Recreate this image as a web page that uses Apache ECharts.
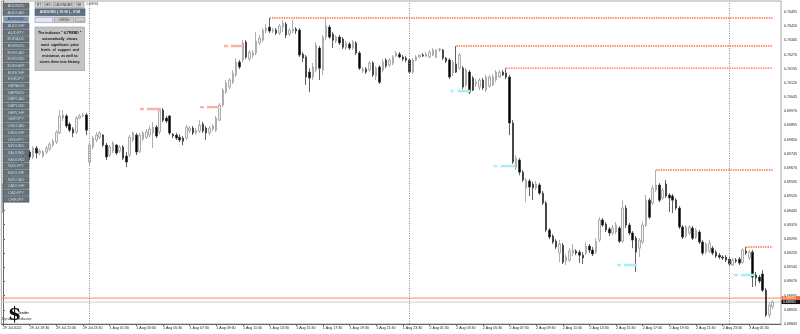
<!DOCTYPE html>
<html><head><meta charset="utf-8">
<script src="https://cdn.jsdelivr.net/npm/echarts@6/dist/echarts.min.js"></script>
<style>html,body{margin:0;padding:0;background:#fff}#c{width:800px;height:334px}</style>
</head><body><div id="c"></div>
<script>
// ---------- data ----------
const tickLabels = ["29 Jul 2022","29 Jul 19:30","29 Jul 21:30","29 Jul 23:30",
 "1 Aug 01:30","1 Aug 03:30","1 Aug 05:30","1 Aug 07:30","1 Aug 09:30","1 Aug 11:30",
 "1 Aug 13:30","1 Aug 15:30","1 Aug 17:30","1 Aug 19:30","1 Aug 21:30","1 Aug 23:30",
 "2 Aug 01:30","2 Aug 03:30","2 Aug 05:30","2 Aug 07:30","2 Aug 09:30","2 Aug 11:30",
 "2 Aug 13:30","2 Aug 15:30","2 Aug 17:30","2 Aug 19:30","2 Aug 21:30","2 Aug 23:30",
 "3 Aug 01:30"];
const symbols = ["AUDNZD","AUDCAD","AUDUSD","AUDCHF","AUDJPY","EURAUD","EURNZD","EURCAD",
 "EURUSD","EURGBP","EURCHF","EURJPY","GBPAUD","GBPNZD","GBPCAD","GBPUSD","GBPCHF","GBPJPY",
 "USDCAD","USDCHF","USDJPY","NZDUSD","XAUUSD","XAGUSD","NZDJPY","NZDCHF","NZDCAD","CADCHF",
 "CADJPY","CHFJPY"];
const panelLines = ["The indicator \" 4-TREND \"","automatically  shows","most  significant  price",
 "levels  of  support  and","resistance, as well as","stores them into history."];
// AUDUSD M15 candles: [open, close, low, high]
const candles = [
[0.69500,0.69564,0.69432,0.69590],[0.69564,0.69617,0.69543,0.69632],[0.69617,0.69659,0.69596,0.69680],
[0.69659,0.69685,0.69638,0.69712],[0.69685,0.69712,0.69665,0.69733],[0.69712,0.69701,0.69680,0.69728],
[0.69701,0.69733,0.69685,0.69749],[0.69733,0.69754,0.69717,0.69770],[0.69754,0.69728,0.69712,0.69765],
[0.69728,0.69775,0.69717,0.69786],[0.69775,0.69749,0.69722,0.69786],[0.69749,0.69759,0.69738,0.69770],
[0.69733,0.69754,0.69722,0.69765],[0.69754,0.69775,0.69744,0.69786],[0.69770,0.69796,0.69759,0.69807],
[0.69791,0.69812,0.69781,0.69823],[0.69807,0.69860,0.69796,0.69870],[0.69855,0.69945,0.69849,0.69976],
[0.69934,0.69950,0.69918,0.69976],[0.69945,0.69892,0.69881,0.69955],[0.69902,0.69870,0.69860,0.69913],
[0.69876,0.69855,0.69833,0.69886],[0.69860,0.69934,0.69849,0.69945],[0.69934,0.69945,0.69929,0.69955],
[0.69945,0.69950,0.69939,0.69961],[0.69950,0.69870,0.69844,0.69961],[0.69701,0.69791,0.69685,0.69802],
[0.69781,0.69828,0.69770,0.69839],[0.69818,0.69844,0.69807,0.69860],[0.69833,0.69855,0.69823,0.69865],
[0.69844,0.69791,0.69781,0.69849],[0.69791,0.69728,0.69712,0.69802],[0.69738,0.69781,0.69728,0.69791],
[0.69759,0.69802,0.69749,0.69812],[0.69791,0.69749,0.69738,0.69796],[0.69759,0.69781,0.69749,0.69791],
[0.69781,0.69722,0.69712,0.69791],[0.69733,0.69701,0.69675,0.69754],[0.69738,0.69833,0.69728,0.69844],
[0.69818,0.69855,0.69807,0.69865],[0.69844,0.69754,0.69738,0.69855],[0.69759,0.69844,0.69749,0.69855],
[0.69823,0.69855,0.69812,0.69865],[0.69833,0.69860,0.69823,0.69876],[0.69844,0.69876,0.69833,0.69892],
[0.69855,0.69886,0.69775,0.69913],[0.69886,0.69839,0.69828,0.69897],[0.69860,0.69976,0.69849,0.69987],
[0.69976,0.69923,0.69913,0.69987],[0.69934,0.69918,0.69908,0.69945],[0.69945,0.69855,0.69844,0.69950],
[0.69849,0.69839,0.69828,0.69855],[0.69844,0.69828,0.69818,0.69855],[0.69833,0.69818,0.69807,0.69849],
[0.69828,0.69812,0.69791,0.69839],[0.69828,0.69886,0.69818,0.69897],[0.69865,0.69881,0.69855,0.69892],
[0.69881,0.69855,0.69844,0.69892],[0.69855,0.69870,0.69844,0.69881],[0.69865,0.69897,0.69855,0.69923],
[0.69902,0.69865,0.69855,0.69913],[0.69881,0.69855,0.69818,0.69892],[0.69855,0.69881,0.69844,0.69892],
[0.69876,0.69892,0.69865,0.69902],[0.69870,0.69934,0.69860,0.69945],[0.69923,0.70003,0.69918,0.70013],
[0.70003,0.70082,0.69992,0.70093],[0.70071,0.70119,0.70061,0.70135],[0.70098,0.70135,0.70087,0.70146],
[0.70124,0.70172,0.70114,0.70188],[0.70162,0.70230,0.70151,0.70251],[0.70230,0.70204,0.70193,0.70241],
[0.70241,0.70331,0.70230,0.70346],[0.70336,0.70257,0.70246,0.70346],[0.70246,0.70283,0.70235,0.70294],
[0.70267,0.70278,0.70251,0.70294],[0.70278,0.70341,0.70267,0.70389],[0.70331,0.70357,0.70320,0.70373],
[0.70346,0.70399,0.70336,0.70410],[0.70394,0.70410,0.70383,0.70431],[0.70415,0.70394,0.70383,0.70463],
[0.70394,0.70399,0.70383,0.70410],[0.70399,0.70383,0.70373,0.70410],[0.70383,0.70421,0.70373,0.70431],
[0.70415,0.70436,0.70389,0.70452],[0.70431,0.70373,0.70357,0.70442],[0.70378,0.70399,0.70368,0.70410],
[0.70394,0.70405,0.70383,0.70452],[0.70405,0.70394,0.70378,0.70415],[0.70399,0.70267,0.70257,0.70410],
[0.70272,0.70251,0.70230,0.70283],[0.70257,0.70151,0.70109,0.70267],[0.70177,0.70146,0.70071,0.70198],
[0.70151,0.70204,0.70135,0.70225],[0.70188,0.70320,0.70177,0.70336],[0.70304,0.70198,0.70135,0.70315],
[0.70188,0.70362,0.70162,0.70373],[0.70362,0.70421,0.70346,0.70463],[0.70415,0.70362,0.70352,0.70426],
[0.70378,0.70346,0.70304,0.70389],[0.70341,0.70362,0.70331,0.70373],[0.70362,0.70331,0.70320,0.70373],
[0.70352,0.70309,0.70299,0.70362],[0.70304,0.70331,0.70294,0.70341],[0.70325,0.70304,0.70294,0.70336],
[0.70304,0.70336,0.70294,0.70346],[0.70331,0.70278,0.70267,0.70341],[0.70278,0.70198,0.70188,0.70288],
[0.70183,0.70193,0.70172,0.70204],[0.70193,0.70177,0.70167,0.70204],[0.70188,0.70225,0.70177,0.70235],
[0.70225,0.70162,0.70151,0.70235],[0.70156,0.70198,0.70135,0.70209],[0.70204,0.70124,0.70114,0.70214],
[0.70188,0.70230,0.70177,0.70246],[0.70241,0.70209,0.70198,0.70251],[0.70214,0.70241,0.70204,0.70251],
[0.70225,0.70257,0.70214,0.70267],[0.70262,0.70278,0.70257,0.70288],[0.70272,0.70257,0.70251,0.70283],
[0.70257,0.70246,0.70235,0.70267],[0.70251,0.70241,0.70230,0.70262],[0.70241,0.70177,0.70167,0.70251],
[0.70177,0.70241,0.70167,0.70251],[0.70241,0.70257,0.70235,0.70267],[0.70257,0.70267,0.70251,0.70272],
[0.70267,0.70262,0.70257,0.70278],[0.70262,0.70272,0.70257,0.70283],[0.70257,0.70283,0.70251,0.70294],
[0.70267,0.70294,0.70262,0.70304],[0.70257,0.70294,0.70251,0.70299],[0.70294,0.70299,0.70283,0.70304],
[0.70294,0.70251,0.70241,0.70299],[0.70251,0.70235,0.70225,0.70257],[0.70241,0.70151,0.70140,0.70251],
[0.70172,0.70230,0.70156,0.70241],[0.70220,0.70177,0.70172,0.70315],[0.70198,0.70267,0.70188,0.70278],
[0.70198,0.70098,0.70087,0.70209],[0.70109,0.70188,0.70098,0.70198],[0.70177,0.70071,0.70061,0.70188],
[0.70146,0.70082,0.70077,0.70156],[0.70114,0.70124,0.70098,0.70140],[0.70098,0.70135,0.70082,0.70146],
[0.70135,0.70093,0.70082,0.70146],[0.70082,0.70151,0.70071,0.70162],[0.70103,0.70151,0.70093,0.70162],
[0.70109,0.70151,0.70103,0.70167],[0.70135,0.70177,0.70124,0.70188],[0.70151,0.70177,0.70146,0.70188],
[0.70177,0.70162,0.70156,0.70188],[0.70172,0.70151,0.70140,0.70198],[0.70151,0.69908,0.69844,0.70162],
[0.69908,0.69701,0.69691,0.69923],[0.69675,0.69722,0.69659,0.69738],[0.69712,0.69648,0.69632,0.69722],
[0.69648,0.69606,0.69596,0.69659],[0.69564,0.69606,0.69490,0.69617],[0.69601,0.69569,0.69522,0.69611],
[0.69585,0.69564,0.69500,0.69596],[0.69564,0.69585,0.69553,0.69601],[0.69580,0.69537,0.69527,0.69590],
[0.69537,0.69485,0.69474,0.69548],[0.69485,0.69342,0.69331,0.69495],[0.69342,0.69305,0.69294,0.69352],
[0.69310,0.69278,0.69268,0.69320],[0.69283,0.69252,0.69241,0.69294],[0.69220,0.69268,0.69172,0.69289],
[0.69262,0.69172,0.69162,0.69273],[0.69178,0.69199,0.69157,0.69215],[0.69183,0.69231,0.69172,0.69246],
[0.69220,0.69236,0.69204,0.69268],[0.69231,0.69220,0.69209,0.69241],[0.69225,0.69209,0.69167,0.69236],
[0.69209,0.69194,0.69162,0.69225],[0.69220,0.69257,0.69209,0.69278],[0.69257,0.69236,0.69220,0.69268],
[0.69236,0.69215,0.69204,0.69252],[0.69225,0.69283,0.69215,0.69299],[0.69289,0.69395,0.69278,0.69410],
[0.69395,0.69368,0.69358,0.69405],[0.69373,0.69342,0.69331,0.69384],[0.69347,0.69326,0.69310,0.69358],
[0.69326,0.69352,0.69315,0.69368],[0.69331,0.69368,0.69320,0.69384],[0.69352,0.69283,0.69273,0.69363],
[0.69283,0.69458,0.69273,0.69500],[0.69458,0.69368,0.69352,0.69474],[0.69368,0.69326,0.69315,0.69379],
[0.69326,0.69289,0.69246,0.69336],[0.69299,0.69225,0.69120,0.69310],[0.69246,0.69289,0.69199,0.69299],
[0.69278,0.69368,0.69268,0.69384],[0.69368,0.69500,0.69358,0.69527],[0.69500,0.69410,0.69400,0.69511],
[0.69485,0.69564,0.69474,0.69580],[0.69553,0.69580,0.69543,0.69659],[0.69580,0.69500,0.69490,0.69590],
[0.69511,0.69553,0.69500,0.69564],[0.69585,0.69522,0.69511,0.69606],[0.69527,0.69511,0.69437,0.69537],
[0.69522,0.69500,0.69432,0.69532],[0.69500,0.69458,0.69447,0.69511],[0.69458,0.69358,0.69347,0.69469],
[0.69358,0.69305,0.69294,0.69368],[0.69310,0.69358,0.69299,0.69368],[0.69326,0.69358,0.69315,0.69368],
[0.69352,0.69299,0.69289,0.69363],[0.69305,0.69342,0.69294,0.69352],[0.69331,0.69278,0.69268,0.69342],
[0.69278,0.69220,0.69209,0.69289],[0.69225,0.69268,0.69215,0.69278],[0.69231,0.69273,0.69220,0.69289],
[0.69246,0.69220,0.69209,0.69257],[0.69225,0.69204,0.69194,0.69236],[0.69209,0.69199,0.69188,0.69220],
[0.69199,0.69194,0.69183,0.69209],[0.69199,0.69183,0.69172,0.69209],[0.69188,0.69162,0.69151,0.69199],
[0.69157,0.69183,0.69151,0.69194],[0.69183,0.69178,0.69167,0.69194],[0.69188,0.69167,0.69157,0.69199],
[0.69172,0.69236,0.69162,0.69246],[0.69231,0.69220,0.69209,0.69252],[0.69194,0.69225,0.69183,0.69236],
[0.69225,0.69093,0.69040,0.69236],[0.69104,0.69088,0.69045,0.69120],[0.69093,0.69072,0.69061,0.69104],
[0.69109,0.69024,0.69014,0.69130],[0.69024,0.68892,0.68882,0.69035],[0.68892,0.68945,0.68876,0.68961],
[0.68935,0.68961,0.68924,0.68971]
];
// resistance levels drawn by the indicator: start bar and price
const resistStart = [80, 136, 151, 196, 223];
const resistPrice = [0.70463, 0.70315, 0.70198, 0.69659, 0.69252];
// short history marks: [fromBar, toBar, price]
const orangeMarks = [[41.1,42.3,0.69982],[43.2,47.4,0.69982],[59.1,60.3,0.69992],[61.2,64.8,0.69992],
 [66.3,67.5,0.70315],[68.4,72.0,0.70315]];
const cyanMarks = [[134.3,135.2,0.70077],[136.4,140.3,0.70077],[147.2,148.4,0.69680],[149.3,153.8,0.69680],
 [184.3,185.5,0.69157],[186.4,190.3,0.69157],[219.4,220.6,0.69104],[221.5,225.7,0.69104]];
const daySeparators = [26, 122, 218];
const askPrice = 0.68982;
const bidPrice = 0.68961;
const priceMin = 0.68845, priceMax = 0.70553, priceStep = 0.00075;
const slotCount = 234;

// ---------- chart ----------
const chart = echarts.init(document.getElementById('c'), null, {renderer:'canvas'});
const lastBar = candles.length - 1;
const cats = Array.from({length: slotCount}, (_, i) => String(i));
const showTick = (i) => i % 8 === 0 && i / 8 < tickLabels.length;
const FONT = '"Liberation Sans", Arial, sans-serif';
const xFrom = -0.5, xTo = slotCount - 0.5;

const hline = (price, color, width, type, z) => ({
  type:'line', xAxisIndex:1, yAxisIndex:0, symbol:'none', silent:true, z:z,
  data:[[xFrom, price], [xTo, price]], lineStyle:{color, width, type}
});

const series = [{
  type:'candlestick', data:candles, barWidth:2, silent:true, z:2,
  itemStyle:{color:'#f4f4f4', color0:'#000000', borderColor:'#9a9a9a', borderColor0:'#3a3a3a', borderWidth:0.8},
  markLine:{
    symbol:['none','none'], silent:true, animation:false, label:{show:false},
    data: daySeparators.map(i => ({xAxis:i, lineStyle:{color:'#8a8a8a', type:[1,1.5], width:1}}))
  }
},
  hline(bidPrice, '#cdcdcd', 1, 'solid', 1),
  hline(askPrice, '#f58a66', 1, 'solid', 1)
];
resistStart.forEach((s, k) => series.push({
  type:'line', xAxisIndex:1, yAxisIndex:0, symbol:'none', silent:true, z:3,
  data:[[s, resistPrice[k]], [lastBar, resistPrice[k]]],
  lineStyle:{color:'#ff6a3d', width:1.4, type:[1.4,1]}
}));
orangeMarks.forEach(m => series.push({
  type:'line', xAxisIndex:1, yAxisIndex:0, symbol:'none', silent:true, z:3,
  data:[[m[0], m[2]], [m[1], m[2]]], lineStyle:{color:'#f9b3a0', width:2.4}
}));
cyanMarks.forEach(m => series.push({
  type:'line', xAxisIndex:1, yAxisIndex:0, symbol:'none', silent:true, z:3,
  data:[[m[0], m[2]], [m[1], m[2]]], lineStyle:{color:'#a6f0f5', width:2.4}
}));

// overlay widgets (symbol list, info panel, logo)
const g = [];
const txt = (x, y, text, font, fill, align) => ({type:'text', x, y, z:101,
  style:{text, font, fill, textAlign:align||'left', align:align||'left', textVerticalAlign:'middle', verticalAlign:'middle'}});
const box = (x, y, w, h, fill, stroke) => ({type:'rect', z:100, shape:{x, y, width:w, height:h},
  style:{fill, stroke:stroke||null, lineWidth:0.6}});
symbols.forEach((s, k) => {
  const y = 3 + k * 6.67, sel = (s === 'AUDUSD');
  g.push(box(3, y, 26, 5.8, sel ? '#8494a3' : '#65727b', sel ? '#dfe6ee' : '#4d5860'));
  g.push(txt(16, y + 3, s, '4px ' + FONT, sel ? '#1f3f96' : '#cdd3d8', 'center'));
});
[[35,8,'RT'],[44,8,'MS'],[53,20,'CALENDAR'],[74,10,'NR']].forEach(b => {
  g.push(box(b[0], 2, b[1], 5.6, '#d3d3d3', '#8c8c8c'));
  g.push(txt(b[0] + b[1] / 2, 4.9, b[2], '3.3px ' + FONT, '#333', 'center'));
});
g.push(box(35, 8.8, 50, 7, '#607182', '#44505c'));
g.push(txt(60, 12.4, 'AUDUSD | 15 M | - ICM', 'bold 3.8px ' + FONT, '#e8edf2', 'center'));
g.push(box(35, 17.4, 18, 5.2, '#e2e5f5', '#8a8fa8'));
g.push(box(54, 17.4, 20, 5.2, '#cbcbcb', '#8c8c8c'));
g.push(txt(64, 20, '<1818>', '3.3px ' + FONT, '#333', 'center'));
g.push(box(75, 17.4, 10, 5.2, '#cbcbcb', '#8c8c8c'));
g.push(txt(80, 20.5, '____', '3.3px ' + FONT, '#333', 'center'));
g.push(txt(86.5, 4.2, '0.68961', '3.4px ' + FONT, '#444', 'left'));
g.push(box(35, 27, 49.5, 43.5, '#c4c4c4', '#9a9a9a'));
panelLines.forEach((l, k) => g.push(txt(59.8, 33 + k * 5.8, l, 'bold 3.5px ' + FONT, '#111', 'center')));
g.push(txt(8, 315, '$', 'bold 19px "DejaVu Serif", serif', '#111', 'left'));
g.push(txt(18, 313, 'Trader', 'bold 3.6px ' + FONT, '#333', 'left'));
g.push(txt(2, 318.5, 'Dynamic', '3.6px ' + FONT, '#333', 'left'));
g.push(txt(18, 318.5, 'Indicator', '3.6px ' + FONT, '#333', 'left'));

chart.setOption({
  animation:false,
  backgroundColor:'#ffffff',
  tooltip:{show:false},
  grid:{left:0, right:19, top:1, bottom:10, show:true, borderColor:'#a8a8a8', borderWidth:1},
  xAxis:[{
    type:'category', data:cats, boundaryGap:true,
    axisLine:{show:true, lineStyle:{color:'#666', width:1}},
    axisTick:{show:true, alignWithLabel:true, interval:showTick, length:2, lineStyle:{color:'#666'}},
    axisLabel:{interval:showTick, formatter:(v, i) => tickLabels[i / 8] || '', align:'left',
      fontSize:3.6, fontFamily:FONT, color:'#222', margin:1.6},
    splitLine:{show:false}
  },{
    type:'value', min:xFrom, max:xTo, show:false
  }],
  yAxis:{
    type:'value', position:'right', min:priceMin, max:priceMax, interval:priceStep,
    axisLine:{show:true, lineStyle:{color:'#666', width:1}},
    axisTick:{show:true, length:2, lineStyle:{color:'#666'}},
    axisLabel:{fontSize:3.6, fontFamily:FONT, color:'#222', margin:3, showMaxLabel:false, showMinLabel:true,
      formatter:v => v.toFixed(5)},
    splitLine:{show:false}
  },
  series,
  graphic:{elements:g}
});

// price tags on the price scale, placed through the axis scale
const tag = (price, fill) => {
  const y = chart.convertToPixel({yAxisIndex:0}, price);
  g.push(box(781.5, y - 2, 18.5, 4, fill, null));
  g.push(txt(783, y, price.toFixed(5), '3.6px ' + FONT, '#ffffff', 'left'));
};
tag(askPrice, '#f26b3a');
tag(bidPrice, '#111111');
chart.setOption({graphic:{elements:g}});
</script></body></html>
